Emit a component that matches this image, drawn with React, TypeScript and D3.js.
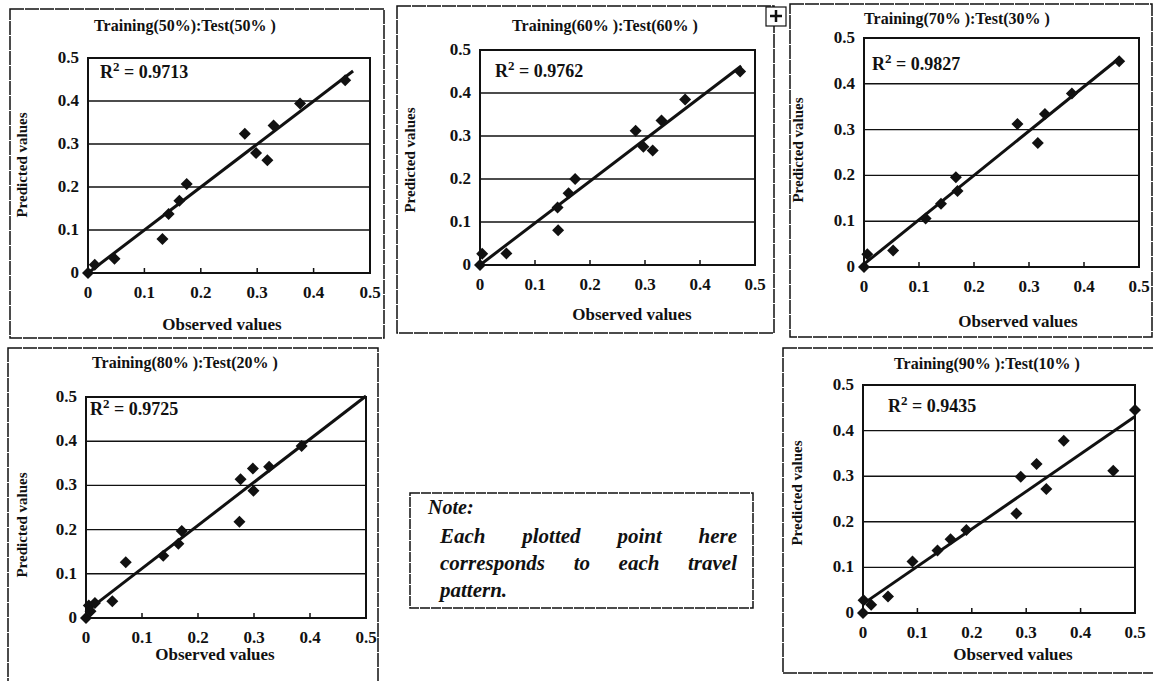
import React, { useEffect, useRef } from "react";
import * as d3 from "d3";

// observed / predicted pairs
const obs50 = [0, 0.012, 0.047, 0.132, 0.143, 0.162, 0.175, 0.278, 0.298, 0.318, 0.329, 0.376, 0.456];
const pred50 = [0, 0.019, 0.033, 0.079, 0.137, 0.168, 0.207, 0.324, 0.279, 0.262, 0.343, 0.394, 0.448];

const obs60 = [0, 0.004, 0.048, 0.142, 0.141, 0.161, 0.173, 0.283, 0.297, 0.314, 0.33, 0.373, 0.473];
const pred60 = [0, 0.026, 0.027, 0.081, 0.134, 0.167, 0.2, 0.312, 0.275, 0.266, 0.336, 0.385, 0.45];

const obs70 = [0, 0.006, 0.053, 0.112, 0.14, 0.17, 0.167, 0.279, 0.316, 0.329, 0.378, 0.464];
const pred70 = [0, 0.028, 0.036, 0.106, 0.138, 0.166, 0.196, 0.312, 0.271, 0.334, 0.379, 0.449];

const obs80 = [0, 0.005, 0.008, 0.016, 0.047, 0.071, 0.138, 0.165, 0.171, 0.274, 0.276, 0.298, 0.299, 0.327, 0.385];
const pred80 = [0, 0.028, 0.015, 0.034, 0.038, 0.126, 0.141, 0.168, 0.197, 0.218, 0.314, 0.338, 0.288, 0.342, 0.389];

const obs90 = [0, 0.001, 0.015, 0.046, 0.091, 0.137, 0.161, 0.19, 0.29, 0.282, 0.319, 0.337, 0.369, 0.46, 0.5];
const pred90 = [0, 0.028, 0.018, 0.036, 0.113, 0.137, 0.162, 0.182, 0.299, 0.218, 0.327, 0.272, 0.378, 0.312, 0.445];

const titles = [
  "Training(50%):Test(50% )",
  "Training(60% ):Test(60% )",
  "Training(70% ):Test(30% )",
  "Training(80% ):Test(20% )",
  "Training(90% ):Test(10% )",
];
const r2Values = ["0.9713", "0.9762", "0.9827", "0.9725", "0.9435"];
const trendEnds = [0.47, 0.475, 0.465, 0.5, 0.5];
const ticks = [0, 0.1, 0.2, 0.3, 0.4, 0.5];
const xLabel = "Observed values";
const yLabel = "Predicted values";
const noteLines = ["Each plotted point here", "corresponds to each travel", "pattern."];

// page layout of each panel: outer frame, plot area, text anchors
const frames = [
  { box: [10, 9, 384, 338], px: [88, 370], py: [273, 58], title: [185, 31], r2: [100, 78], xl: [222, 330], yl: [22, 165] },
  { box: [397, 6, 774, 333], px: [480, 755], py: [265, 50], title: [605, 31], r2: [495, 77], xl: [632, 320], yl: [410, 160] },
  { box: [790, 4, 1152, 337], px: [864, 1139], py: [267, 38], title: [957, 24], r2: [872, 70], xl: [1018, 327], yl: [798, 150] },
  { box: [8, 348, 378, 690], px: [86, 366], py: [618, 397], title: [185, 368], r2: [90, 415], xl: [215, 660], yl: [22, 525] },
  { box: [783, 348, 1160, 673], px: [863, 1135], py: [613, 385], title: [987, 369], r2: [888, 412], xl: [1013, 660], yl: [797, 493] },
];

const serif = "Liberation Serif";
const ink = "#111";

const App = () => {
  const ref = useRef<SVGSVGElement>(null);

  useEffect(() => {
    document.body.style.margin = "0";
    const svg = d3.select(ref.current);
    svg.selectAll("*").remove();
    const series = [
      [obs50, pred50],
      [obs60, pred60],
      [obs70, pred70],
      [obs80, pred80],
      [obs90, pred90],
    ];
    series.forEach(([xs, ys], i) => drawPanel(svg, frames[i], xs, ys, i));
    drawNote(svg);
    drawHandle(svg);
  }, []);

  const txt = (g, size, weight = "bold", style = "normal") =>
    g.append("text")
      .attr("font-family", serif)
      .attr("font-size", size)
      .attr("font-weight", weight)
      .attr("font-style", style)
      .attr("fill", ink);

  const drawPanel = (svg, f, xs, ys, i) => {
    const g = svg.append("g");
    const [bx0, by0, bx1, by1] = f.box;
    g.append("rect")
      .attr("x", bx0).attr("y", by0)
      .attr("width", bx1 - bx0).attr("height", by1 - by0)
      .attr("fill", "none").attr("stroke", ink).attr("stroke-width", 1.5)
      .attr("stroke-dasharray", "14 1");

    const x = d3.scaleLinear().domain([0, 0.5]).range(f.px);
    const y = d3.scaleLinear().domain([0, 0.5]).range(f.py);

    // grid lines
    g.selectAll("line.grid")
      .data(ticks.slice(1, 5))
      .enter()
      .append("line")
      .attr("class", "grid")
      .attr("x1", f.px[0]).attr("x2", f.px[1])
      .attr("y1", d => y(d)).attr("y2", d => y(d))
      .attr("stroke", ink).attr("stroke-width", 1.4);

    // small inner ticks on the x axis
    g.selectAll("line.xt")
      .data(ticks.slice(1, 5))
      .enter()
      .append("line")
      .attr("class", "xt")
      .attr("x1", d => x(d)).attr("x2", d => x(d))
      .attr("y1", f.py[0]).attr("y2", f.py[0] - 5)
      .attr("stroke", ink).attr("stroke-width", 1.5);

    g.append("rect")
      .attr("x", f.px[0]).attr("y", f.py[1])
      .attr("width", f.px[1] - f.px[0]).attr("height", f.py[0] - f.py[1])
      .attr("fill", "none").attr("stroke", ink).attr("stroke-width", 2);

    const fmt = d => (d === 0 ? "0" : d.toFixed(1));
    ticks.forEach(t => {
      txt(g, 17)
        .attr("x", x(t)).attr("y", f.py[0] + 25)
        .attr("text-anchor", "middle")
        .text(fmt(t));
      txt(g, 17)
        .attr("x", f.px[0] - 9).attr("y", y(t) + 5)
        .attr("text-anchor", "end")
        .text(fmt(t));
    });

    // least squares trend line
    const mx = d3.mean(xs), my = d3.mean(ys);
    const sxy = d3.sum(xs, (v, k) => (v - mx) * (ys[k] - my));
    const sxx = d3.sum(xs, v => (v - mx) * (v - mx));
    const slope = sxy / sxx;
    const icpt = my - slope * mx;
    const line = d3.line().x(d => x(d)).y(d => y(Math.max(0, slope * d + icpt)));
    g.append("path")
      .attr("d", line([0, trendEnds[i]]))
      .attr("fill", "none").attr("stroke", ink).attr("stroke-width", 3);

    const sym = d3.symbol().type(d3.symbolSquare).size(72);
    g.selectAll("path.dot")
      .data(xs.map((v, k) => [v, ys[k]]))
      .enter()
      .append("path")
      .attr("class", "dot")
      .attr("d", sym)
      .attr("transform", d => `translate(${x(d[0])},${y(d[1])}) rotate(45)`)
      .attr("fill", ink);

    txt(g, 16)
      .attr("x", f.title[0]).attr("y", f.title[1])
      .attr("text-anchor", "middle")
      .text(titles[i]);

    const r2 = txt(g, 18).attr("x", f.r2[0]).attr("y", f.r2[1]);
    r2.append("tspan").text("R");
    r2.append("tspan").attr("dy", -7).attr("font-size", 13).text("2");
    r2.append("tspan").attr("dy", 7).text(" = " + r2Values[i]);

    txt(g, 17)
      .attr("x", f.xl[0]).attr("y", f.xl[1])
      .attr("text-anchor", "middle")
      .text(xLabel);

    txt(g, 15)
      .attr("transform", `translate(${f.yl[0] + 5},${f.yl[1]}) rotate(-90)`)
      .attr("text-anchor", "middle")
      .text(yLabel);
  };

  const drawNote = svg => {
    const g = svg.append("g");
    g.append("rect")
      .attr("x", 410).attr("y", 493)
      .attr("width", 343).attr("height", 115)
      .attr("fill", "none").attr("stroke", ink).attr("stroke-width", 1.5)
      .attr("stroke-dasharray", "10 1");
    txt(g, 20, "bold", "italic").attr("x", 428).attr("y", 514).text("Note:");

    // justified lines: place each word so the line spans the full width
    const left = 440, right = 737;
    noteLines.forEach((ln, k) => {
      const words = ln.split(" ");
      const yy = 543 + k * 27;
      const nodes = words.map(w => txt(g, 21, "bold", "italic").attr("y", yy).text(w));
      const widths = nodes.map(n => n.node().getComputedTextLength());
      const last = k === noteLines.length - 1;
      const gap = last || words.length < 2 ? 5 : (right - left - d3.sum(widths)) / (words.length - 1);
      let cx = left;
      nodes.forEach((n, j) => {
        n.attr("x", cx);
        cx += widths[j] + gap;
      });
    });
  };

  // move handle left on the scanned page
  const drawHandle = svg => {
    const g = svg.append("g").attr("transform", "translate(776,16)");
    g.append("rect").attr("x", -10).attr("y", -9).attr("width", 20).attr("height", 19)
      .attr("fill", "#fff").attr("stroke", ink).attr("stroke-width", 1.2);
    g.append("path").attr("d", "M-6,0H6M0,-6V6").attr("stroke", ink).attr("stroke-width", 2.5);
  };

  return (
    <>
      <svg ref={ref} width={1153} height={681} style={{ display: "block" }}></svg>
    </>
  );
};

export default App;
